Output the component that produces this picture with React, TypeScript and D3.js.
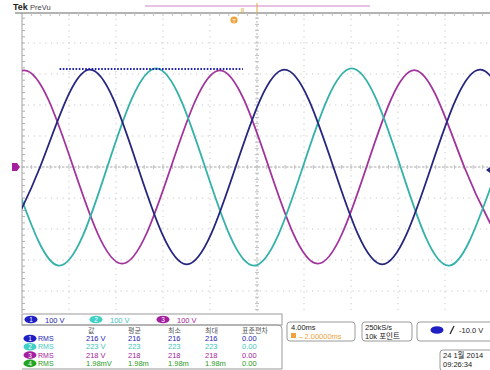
import { useRef, useEffect } from "react";
import * as d3 from "d3";

const svg_width = 490;
const svg_height = 370;
const font = "'Liberation Sans', 'Noto Sans CJK KR', sans-serif";

// screen: 4.00 ms/div, 100 V/div, trigger at centre
// trace knots (ms, V): peaks, zero crossings, troughs
const ch1_times = [-22.62, -18.46, -14.3, -10.14, -5.98, -1.82, 2.34, 6.5, 10.66, 14.82, 18.98, 23.14];
const ch1_volts = [-314, 0, 314, 0, -314, 0, 314, 0, -314, 0, 314, 0];

const ch2_times = [-25.22, -21.06, -16.9, -12.74, -8.58, -4.42, -0.26, 3.9, 8.06, 12.22, 16.38, 20.54, 24.7];
const ch2_volts = [318, 0, -318, 0, 318, 0, -318, 0, 318, 0, -318, 0, 318];

const ch3_times = [-23.96, -19.8, -15.64, -11.48, -7.32, -3.16, 1.0, 5.16, 9.32, 13.48, 17.64, 21.8];
const ch3_volts = [0, 312, 0, -312, 0, 312, 0, -312, 0, 312, 0, -312];

const trace_colors = ["#26267f", "#34b1a9", "#a1339b"];
const text_colors = ["#2424b4", "#3ec6be", "#a6229c", "#1f9b1f"];
const pill_colors = ["#1f1fc4", "#3fd0c6", "#a41fa0", "#22a322"];

const ch_scales = ["100 V", "100 V", "100 V"];
const table_head = ["값", "평균", "최소", "최대", "표준편차"];
const row_labels = ["RMS", "RMS", "RMS", "RMS"];
const row_values = [
    ["216 V", "216", "216", "216", "0.00"],
    ["223 V", "223", "223", "223", "0.00"],
    ["218 V", "218", "218", "218", "0.00"],
    ["1.98mV", "1.98m", "1.98m", "1.98m", "0.00"],
];

const ref_level = 316; // blue dotted marker line, V
const ref_span = [-16.8, -1.2]; // ms

export default function App() {
    const ref = useRef<HTMLDivElement>(null);

    useEffect(() => {
        const root = d3.select(ref.current);
        root.selectAll("*").remove();

        const svg = root.append("svg")
            .attr("width", svg_width)
            .attr("height", svg_height)
            .style("position", "absolute")
            .style("left", "0px")
            .style("top", "0px")
            .style("background-color", "white")
            .style("font-family", font);

        const x = d3.scaleLinear().domain([-20, 20]).range([22, 492]);
        const y = d3.scaleLinear().domain([-500, 500]).range([322, 12]);

        const top = 13;
        const bottom = 313;
        const left = 22;
        const right = 490;

        // graticule
        const grid = svg.append("g");
        grid.selectAll(".vg")
            .data(d3.range(-16, 21, 4).filter(t => t !== 0))
            .join("line")
                .attr("x1", d => x(d)).attr("x2", d => x(d))
                .attr("y1", top).attr("y2", bottom)
                .attr("stroke", "#c6c6c6")
                .attr("stroke-dasharray", "1.2,4.6");
        grid.selectAll(".hg")
            .data(d3.range(-400, 401, 100).filter(v => v !== 0))
            .join("line")
                .attr("x1", left).attr("x2", right)
                .attr("y1", d => y(d)).attr("y2", d => y(d))
                .attr("stroke", "#c6c6c6")
                .attr("stroke-dasharray", "1.2,4.6");

        // centre lines and edges
        grid.append("line")
            .attr("x1", left).attr("x2", right)
            .attr("y1", y(0)).attr("y2", y(0))
            .attr("stroke", "#a8a8a8")
            .attr("stroke-dasharray", "2.5,1.5");
        grid.append("line")
            .attr("x1", x(0)).attr("x2", x(0))
            .attr("y1", top).attr("y2", bottom)
            .attr("stroke", "#b8b8b8")
            .attr("stroke-dasharray", "2,2");
        grid.append("line")
            .attr("x1", left).attr("x2", left)
            .attr("y1", top).attr("y2", bottom)
            .attr("stroke", "#a0a0a0");
        grid.append("line")
            .attr("x1", 15).attr("x2", right)
            .attr("y1", top).attr("y2", top)
            .attr("stroke", "#9a9a9a")
            .attr("stroke-width", 1.6);

        // minor ticks
        const minor_v = d3.range(-480, 481, 20).filter(v => y(v) > top + 1 && y(v) < bottom);
        const minor_t = d3.range(-19.2, 20, 0.8);
        grid.selectAll(".tl").data(minor_v).join("line")
            .attr("x1", left).attr("x2", left + 3)
            .attr("y1", d => y(d)).attr("y2", d => y(d))
            .attr("stroke", "#b0b0b0");
        grid.selectAll(".tc").data(minor_v).join("line")
            .attr("x1", x(0) - 2).attr("x2", x(0) + 2)
            .attr("y1", d => y(d)).attr("y2", d => y(d))
            .attr("stroke", "#c0c0c0");
        grid.selectAll(".th").data(minor_t).join("line")
            .attr("x1", d => x(d)).attr("x2", d => x(d))
            .attr("y1", y(0) - 2).attr("y2", y(0) + 2)
            .attr("stroke", "#c0c0c0");
        grid.selectAll(".tt").data(minor_t).join("line")
            .attr("x1", d => x(d)).attr("x2", d => x(d))
            .attr("y1", top).attr("y2", top + 3)
            .attr("stroke", "#c0c0c0");

        // traces
        svg.append("clipPath").attr("id", "scr")
            .append("rect")
            .attr("x", left).attr("y", top)
            .attr("width", right - left).attr("height", bottom - top);

        const line = d3.line<[number, number]>()
            .x(d => x(d[0]))
            .y(d => y(d[1]))
            .curve(d3.curveNatural);

        const traces: [number, number][][] = [
            ch1_times.map((t, i) => [t, ch1_volts[i]]),
            ch2_times.map((t, i) => [t, ch2_volts[i]]),
            ch3_times.map((t, i) => [t, ch3_volts[i]]),
        ];

        const tg = svg.append("g").attr("clip-path", "url(#scr)");
        [2, 1, 0].forEach(i => {
            tg.append("path")
                .attr("d", line(traces[i]))
                .attr("fill", "none")
                .attr("stroke", trace_colors[i])
                .attr("stroke-width", 1.8)
                .attr("stroke-linejoin", "round");
        });

        // reference dotted line
        svg.append("line")
            .attr("x1", x(ref_span[0])).attr("x2", x(ref_span[1]))
            .attr("y1", y(ref_level)).attr("y2", y(ref_level))
            .attr("stroke", "#2020a8")
            .attr("stroke-width", 2)
            .attr("stroke-dasharray", "1.6,1.6");

        // ground marker (ch3 on top)
        svg.append("path")
            .attr("d", `M12,${y(0) - 4}h5l3,4l-3,4h-5z`)
            .attr("fill", pill_colors[2]);
        // trigger level marker
        svg.append("path")
            .attr("d", `M490,${y(-10) - 3}l-4,3l4,3z`)
            .attr("fill", trace_colors[0]);

        // top bar
        svg.append("text")
            .attr("x", 13).attr("y", 10)
            .attr("font-size", 9).attr("font-weight", "bold")
            .attr("fill", "#222")
            .text("Tek");
        svg.append("text")
            .attr("x", 30).attr("y", 10)
            .attr("font-size", 7.5)
            .attr("fill", "#444")
            .text("PreVu");
        svg.append("line")
            .attr("x1", 145).attr("x2", 370)
            .attr("y1", 6).attr("y2", 6)
            .attr("stroke", "#cf86cc")
            .attr("stroke-width", 1.2);
        svg.append("text")
            .attr("x", 241).attr("y", 13)
            .attr("font-size", 7).attr("fill", "#e0a030")
            .text("ll");
        svg.append("line")
            .attr("x1", x(0)).attr("x2", x(0))
            .attr("y1", 3).attr("y2", 13)
            .attr("stroke", "#e8a640");
        svg.append("circle")
            .attr("cx", 234).attr("cy", 20).attr("r", 3.6)
            .attr("fill", "#f0a23a");
        svg.append("text")
            .attr("x", 234).attr("y", 22.5)
            .attr("font-size", 6).attr("text-anchor", "middle")
            .attr("fill", "#fff")
            .text("T");

        // channel legend bar
        const pill = (g: d3.Selection<SVGGElement, unknown, null, undefined>, cx: number, cy: number, color: string, label: string) => {
            g.append("ellipse")
                .attr("cx", cx).attr("cy", cy)
                .attr("rx", 6.5).attr("ry", 3.8)
                .attr("fill", color);
            g.append("text")
                .attr("x", cx).attr("y", cy + 2.5)
                .attr("font-size", 6.5).attr("text-anchor", "middle")
                .attr("fill", "#fff")
                .text(label);
        };

        const bar = svg.append("g");
        bar.append("rect")
            .attr("x", left).attr("y", 314)
            .attr("width", 260).attr("height", 11)
            .attr("fill", "#fff")
            .attr("stroke", "#9a9a9a");
        const bar_x = [31, 96, 163];
        ch_scales.forEach((s, i) => {
            pill(bar, bar_x[i], 319.5, pill_colors[i], String(i + 1));
            bar.append("text")
                .attr("x", bar_x[i] + 14).attr("y", 322.5)
                .attr("font-size", 7.5)
                .attr("fill", text_colors[i])
                .text(s);
        });

        // measurement table
        const tab = svg.append("g");
        tab.append("path")
            .attr("d", `M${left},325H278q4,0 4,4V369H${left}`)
            .attr("fill", "none")
            .attr("stroke", "#9a9a9a");
        const col_x = [86, 128, 168, 205, 242];
        table_head.forEach((h, j) => {
            tab.append("text")
                .attr("x", col_x[j] + (j === 0 ? 2 : 0)).attr("y", 333)
                .attr("font-size", 7)
                .attr("fill", "#555")
                .text(h);
        });
        row_values.forEach((row, i) => {
            const cy = 338.5 + i * 8.3;
            pill(tab, 30, cy, pill_colors[i], String(i + 1));
            tab.append("text")
                .attr("x", 38).attr("y", cy + 2.6)
                .attr("font-size", 7)
                .attr("fill", text_colors[i])
                .text(row_labels[i]);
            row.forEach((v, j) => {
                tab.append("text")
                    .attr("x", col_x[j]).attr("y", cy + 2.6)
                    .attr("font-size", 7.5)
                    .attr("fill", text_colors[i])
                    .text(v);
            });
        });

        // right-hand readouts
        const box = (bx: number, by: number, bw: number, bh: number) => svg.append("rect")
            .attr("x", bx).attr("y", by)
            .attr("width", bw).attr("height", bh)
            .attr("rx", 3)
            .attr("fill", "#fff")
            .attr("stroke", "#9a9a9a");

        box(287, 322, 68, 19);
        svg.append("text").attr("x", 291).attr("y", 330)
            .attr("font-size", 7.5).attr("fill", "#222").text("4.00ms");
        svg.append("rect").attr("x", 291).attr("y", 333).attr("width", 5).attr("height", 5)
            .attr("fill", "#f0a23a");
        svg.append("text").attr("x", 297).attr("y", 338.5)
            .attr("font-size", 7.5).attr("fill", "#f0a23a").text("→2.00000ms");

        box(362, 322, 50, 19);
        svg.append("text").attr("x", 365).attr("y", 330)
            .attr("font-size", 7.5).attr("fill", "#222").text("250kS/s");
        svg.append("text").attr("x", 365).attr("y", 338.5)
            .attr("font-size", 7.5).attr("fill", "#222").text("10k 포인트");

        box(417, 322, 80, 19);
        svg.append("ellipse").attr("cx", 437).attr("cy", 330)
            .attr("rx", 6.5).attr("ry", 3.8).attr("fill", pill_colors[0]);
        svg.append("path")
            .attr("d", "M450,334L454,326")
            .attr("stroke", "#222").attr("stroke-width", 1.2);
        svg.append("text").attr("x", 459).attr("y", 332.5)
            .attr("font-size", 7.5).attr("fill", "#222").text("-10.0 V");

        box(440, 350, 60, 21);
        svg.append("text").attr("x", 443).attr("y", 358)
            .attr("font-size", 7.5).attr("fill", "#222").text("24 1월 2014");
        svg.append("text").attr("x", 443).attr("y", 367)
            .attr("font-size", 7.5).attr("fill", "#222").text("09:26:34");

        return () => { root.selectAll("*").remove(); };
    }, [ref]);

    return (
        <div ref={ref} />
    );
}
